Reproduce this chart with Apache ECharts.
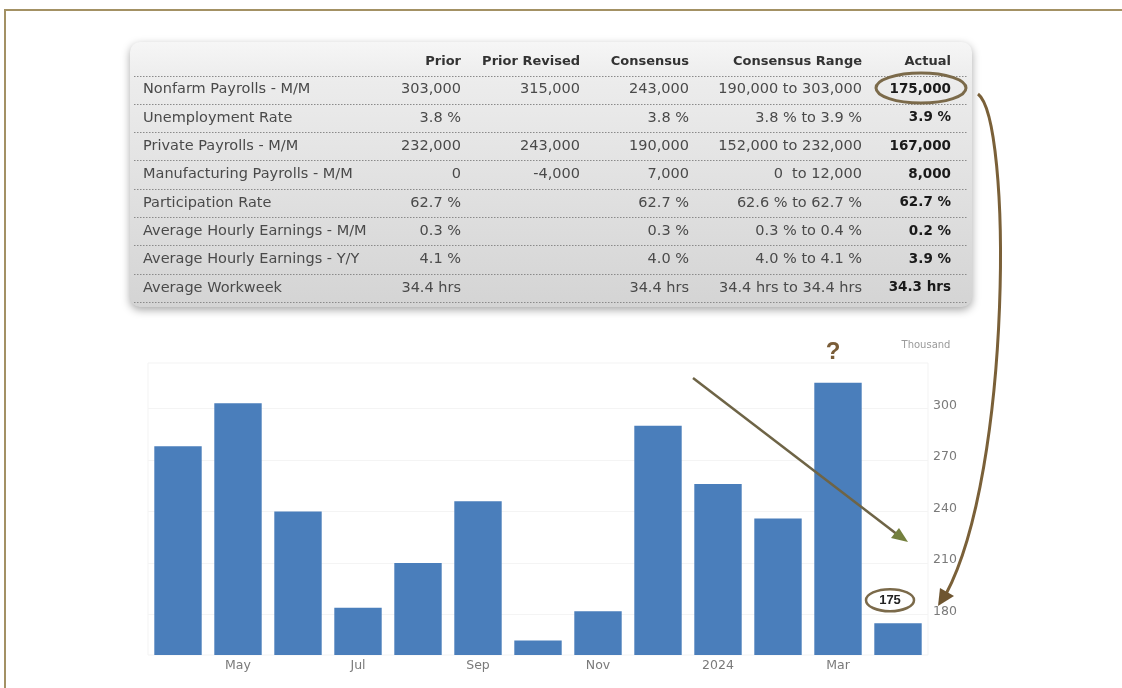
<!DOCTYPE html>
<html>
<head>
<meta charset="utf-8">
<script src="https://cdn.jsdelivr.net/npm/echarts@6/dist/echarts.min.js"></script>
<style>
html,body{margin:0;padding:0;background:#fff;}
#c{width:1122px;height:688px;}
</style>
</head>
<body>
<div id="c"></div>
<script>
// ---- Data ----
const months = ['2023-04','2023-05','2023-06','2023-07','2023-08','2023-09','2023-10','2023-11','2023-12','2024-01','2024-02','2024-03','2024-04'];
const payrolls = [278, 303, 240, 184, 210, 246, 165, 182, 290, 256, 236, 315, 175];
const yTickValues = [180, 210, 240, 270, 300];
const monthNames = ['Jan','Feb','Mar','Apr','May','Jun','Jul','Aug','Sep','Oct','Nov','Dec'];
const unitLabel = 'Thousand';
const highlightLabel = '175';

const tableHeaders = ['Prior', 'Prior Revised', 'Consensus', 'Consensus Range', 'Actual'];
const rowLabels = ['Nonfarm Payrolls - M/M','Unemployment Rate','Private Payrolls - M/M','Manufacturing Payrolls - M/M','Participation Rate','Average Hourly Earnings - M/M','Average Hourly Earnings - Y/Y','Average Workweek'];
const priorValues = ['303,000','3.8 %','232,000','0','62.7 %','0.3 %','4.1 %','34.4 hrs'];
const priorRevisedValues = ['315,000','','243,000','-4,000','','','',''];
const consensusValues = ['243,000','3.8 %','190,000','7,000','62.7 %','0.3 %','4.0 %','34.4 hrs'];
const consensusRangeValues = ['190,000 to 303,000','3.8 % to 3.9 %','152,000 to 232,000','0  to 12,000','62.6 % to 62.7 %','0.3 % to 0.4 %','4.0 % to 4.1 %','34.4 hrs to 34.4 hrs'];
const actualValues = ['175,000','3.9 %','167,000','8,000','62.7 %','0.2 %','3.9 %','34.3 hrs'];

// ---- Layout / style ----
const FONT = '"DejaVu Sans", "Open Sans", sans-serif';
const colRight = [461, 580, 689, 862, 951];
const labelLeft = 143;
const headerY = 62;
const firstSep = 75.5;
const rowH = 28.3;
const brown = '#7b6a4a';

const chart = echarts.init(document.getElementById('c'), null, {renderer: 'canvas'});

function monthLabel(v) {
  const parts = v.split('-');
  const m = parseInt(parts[1], 10);
  return m === 1 ? parts[0] : monthNames[m - 1];
}

function tableGraphics() {
  const g = [];
  // frame
  g.push({type: 'line', shape: {x1: 4, y1: 10, x2: 1122, y2: 10}, style: {stroke: '#a39164', lineWidth: 2}, z: 1});
  g.push({type: 'line', shape: {x1: 5, y1: 10, x2: 5, y2: 688}, style: {stroke: '#a39164', lineWidth: 2}, z: 1});
  // table box
  g.push({
    type: 'rect', shape: {x: 130, y: 42, width: 842, height: 265, r: 10},
    style: {
      fill: new echarts.graphic.LinearGradient(0, 0, 0, 1, [
        {offset: 0, color: '#f6f6f6'}, {offset: 0.15, color: '#ececec'}, {offset: 1, color: '#d4d4d4'}
      ]),
      shadowBlur: 8, shadowColor: 'rgba(0,0,0,0.35)', shadowOffsetY: 3
    }, z: 1
  });
  // header
  tableHeaders.forEach((h, i) => {
    g.push({type: 'text', z: 3, style: {text: h, x: colRight[i], y: headerY, align: 'right', verticalAlign: 'middle',
      font: 'bold 13px ' + FONT, fill: '#333'}});
  });
  // separators
  for (let k = 0; k <= rowLabels.length; k++) {
    const y = Math.round(firstSep + k * rowH) + 0.5;
    g.push({type: 'line', z: 2, shape: {x1: 134, y1: y, x2: 968, y2: y},
      style: {stroke: '#8a8a8a', lineWidth: 1, lineDash: [1.5, 1.5]}});
  }
  const cols = [priorValues, priorRevisedValues, consensusValues, consensusRangeValues, actualValues];
  rowLabels.forEach((lab, r) => {
    const y = firstSep + r * rowH + rowH / 2;
    g.push({type: 'text', z: 3, style: {text: lab, x: labelLeft, y: y, align: 'left', verticalAlign: 'middle',
      font: '14.5px ' + FONT, fill: '#4a4a4a'}});
    cols.forEach((col, c) => {
      const bold = c === cols.length - 1;
      g.push({type: 'text', z: 3, style: {text: col[r], x: colRight[c], y: y, align: 'right', verticalAlign: 'middle',
        font: (bold ? 'bold 13.5px ' : '14.5px ') + FONT, fill: bold ? '#1a1a1a' : '#4a4a4a'}});
    });
  });
  // oval around actual nonfarm value
  g.push({type: 'ellipse', z: 4, shape: {cx: 921, cy: 88, rx: 45, ry: 15}, style: {fill: 'none', stroke: brown, lineWidth: 3}});
  // unit label
  g.push({type: 'text', z: 3, style: {text: unitLabel, x: 926, y: 345, align: 'center', verticalAlign: 'middle',
    font: '10px "DejaVu Sans", sans-serif', fill: '#9a9a9a'}});
  // curved arrow
  g.push({type: 'bezierCurve', z: 5, shape: {x1: 978, y1: 94, cpx1: 1012, cpy1: 120, cpx2: 1012, cpy2: 470, x2: 946, y2: 594},
    style: {stroke: '#7a6038', lineWidth: 3, fill: 'none'}});
  g.push({type: 'polygon', z: 5, shape: {points: [[938, 606], [940, 588], [954, 596]]}, style: {fill: '#6e5530'}});
  // straight arrow
  g.push({type: 'line', z: 5, shape: {x1: 693, y1: 378, x2: 898, y2: 535}, style: {stroke: '#6e6446', lineWidth: 2.5}});
  g.push({type: 'polygon', z: 5, shape: {points: [[908, 542], [891, 538], [899, 528]]}, style: {fill: '#74803e'}});
  return g;
}

const option = {
  animation: false,
  backgroundColor: '#ffffff',
  grid: {left: 148, right: 194, top: 363, bottom: 33, show: true, borderColor: '#f3f3f3', borderWidth: 1},
  xAxis: {
    type: 'category',
    data: months,
    axisLine: {show: false},
    axisTick: {show: false},
    axisLabel: {
      interval: (idx) => idx % 2 === 1,
      formatter: monthLabel,
      color: '#7a7a7a', fontSize: 12.5, fontFamily: '"DejaVu Sans", sans-serif', margin: 4
    },
    splitLine: {show: false}
  },
  yAxis: {
    type: 'value',
    position: 'right',
    min: 156.5,
    max: 326.5,
    axisLine: {show: false},
    axisTick: {show: false, customValues: yTickValues},
    axisLabel: {
      customValues: yTickValues,
      color: '#7a7a7a', fontSize: 12.5, fontFamily: '"DejaVu Sans", sans-serif', margin: 5,
      verticalAlign: 'bottom', lineHeight: 6
    },
    splitLine: {show: true, lineStyle: {color: '#f4f4f4'}}
  },
  series: [{
    type: 'bar',
    data: payrolls,
    barCategoryGap: '21%',
    itemStyle: {color: '#4a7ebb'},
    z: 2
  }],
  graphic: tableGraphics()
};

chart.setOption(option);

// annotations tied to bars
const lastIdx = payrolls.length - 1;
const maxIdx = payrolls.indexOf(Math.max(...payrolls));
const pLast = chart.convertToPixel({gridIndex: 0}, [lastIdx, payrolls[lastIdx]]);
const pMax = chart.convertToPixel({gridIndex: 0}, [maxIdx, payrolls[maxIdx]]);
const extra = [
  {type: 'ellipse', z: 6, shape: {cx: pLast[0] - 8, cy: pLast[1] - 23, rx: 24, ry: 11}, style: {fill: '#fff', stroke: brown, lineWidth: 2.5}},
  {type: 'text', z: 7, style: {text: highlightLabel, x: pLast[0] - 8, y: pLast[1] - 23, align: 'center', verticalAlign: 'middle',
    font: 'bold 13px "Liberation Sans", Arial, sans-serif', fill: '#222'}},
  {type: 'text', z: 7, style: {text: '?', x: pMax[0] - 5, y: pMax[1] - 30, align: 'center', verticalAlign: 'middle',
    font: 'bold 24px "Liberation Sans", Arial, sans-serif', fill: '#7a5d38'}}
];
chart.setOption({graphic: tableGraphics().concat(extra)}, {replaceMerge: ['graphic']});
</script>
</body>
</html>
